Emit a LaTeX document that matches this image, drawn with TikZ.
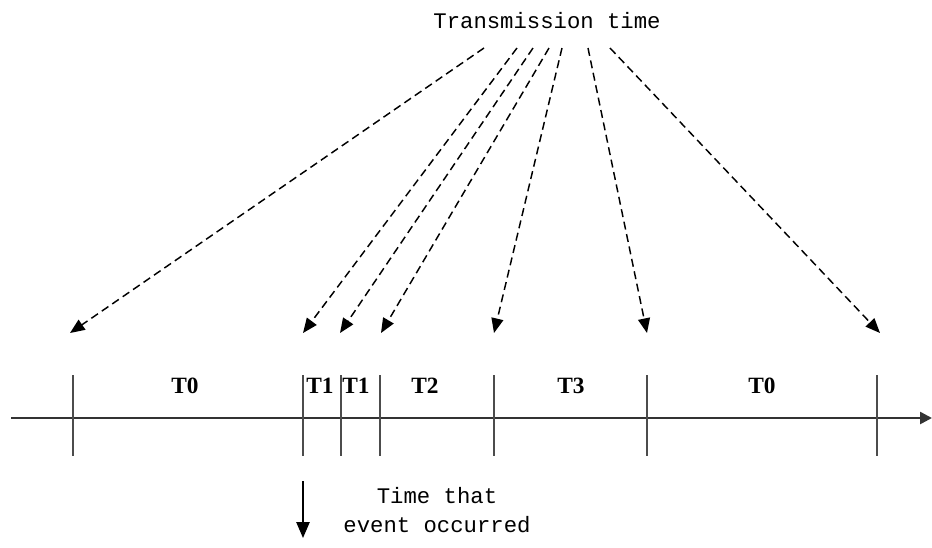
\documentclass[tikz,border=0pt]{standalone}
\usepackage{fontspec}
\setmainfont{Liberation Serif}
\newfontfamily\monofont{Liberation Mono}
\usetikzlibrary{arrows.meta,positioning,calc}

\begin{document}
\begin{tikzpicture}[x=0.75pt, y=-0.75pt,
    every node/.style={inner sep=0pt},
    tx/.style={dash pattern=on 6pt off 3.5pt, line width=1.1pt, -{Triangle[length=11pt, width=9pt]}},
    tick/.style={draw=black!70, line width=0.9pt},
    seglabel/.style={font=\fontsize{17.5}{20}\selectfont\bfseries},
    monolabel/.style={font=\monofont\fontsize{16.7}{21.5}\selectfont, align=center}]
  \useasboundingbox (0,0) rectangle (932,547);
  \pgfmathsetmacro{\ay}{418}
  % time axis
  \coordinate (axstart) at (11,\ay);
  \coordinate (axend) at (932,\ay);
  \draw[black!80, line width=1.9pt, -{Triangle[length=9pt, width=9pt]}] (axstart) -- (axend);
  % ticks on the axis
  \foreach \name/\x in {k0/73, k1/303, k2/341, k3/380, k4/494, k5/647, k6/877} {
    \coordinate (\name) at (\x,\ay);
    \draw[tick] (\x,375) -- (\x,456);
  }
  % segment labels
  \node[seglabel] (s0) at (185,386) {T0};
  \node[seglabel] (s1) at (320,386) {T1};
  \node[seglabel] (s2) at (356,386) {T1};
  \node[seglabel] (s3) at (425,386) {T2};
  \node[seglabel] (s4) at (571,386) {T3};
  \node[seglabel] (s5) at (762,386) {T0};
  % transmission time and its arrows
  \node[monolabel] (trans) at (547,21) {Transmission time};
  \foreach \i/\sx/\ex in {0/484/70, 1/517/303, 2/533/340, 3/549/381, 4/562/494, 5/588/647, 6/610/880} {
    \coordinate (src\i) at (\sx,48);
    \coordinate (dst\i) at (\ex,333);
    \draw[tx] (src\i) -- (dst\i);
  }
  % event occurrence
  \coordinate (evtop) at (303,481);
  \coordinate (evbot) at (303,538);
  \draw[line width=1.2pt, -{Triangle[length=12pt, width=10pt]}] (evtop) -- (evbot);
  \node[monolabel] (event) at (437,510) {Time that\\event occurred};
\end{tikzpicture}
\end{document}
